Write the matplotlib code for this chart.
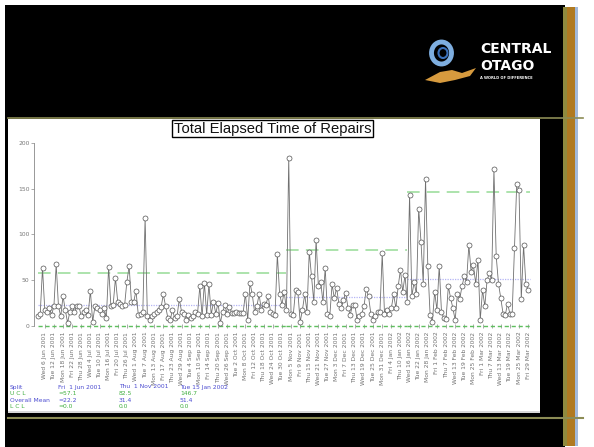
import matplotlib
matplotlib.use("Agg")
import matplotlib.pyplot as plt
from matplotlib.patches import Rectangle, Polygon, Ellipse
from matplotlib.lines import Line2D

W, H = 594, 447

# ---------------- data ----------------
values = [
    10, 13, 63, 17, 15, 19, 12, 21, 67, 21,
    10, 32, 17, 3, 15, 21, 15, 21, 21, 10,
    15, 17, 12, 38, 4, 21, 19, 17, 13, 19,
    8, 64, 21, 23, 52, 26, 24, 21, 22, 48,
    65, 26, 26, 38, 12, 13, 15, 118, 10, 6,
    10, 13, 15, 17, 20, 34, 21, 8, 6, 17,
    8, 10, 29, 15, 13, 6, 12, 8, 10, 15,
    13, 43, 10, 47, 12, 45, 12, 26, 13, 25,
    3, 15, 22, 13, 20, 14, 14, 15, 14, 14,
    14, 35, 6, 47, 34, 15, 21, 34, 17, 24,
    23, 32, 15, 13, 12, 78, 35, 23, 37,
    17, 184, 13, 12, 39, 37, 4, 17, 34, 15,
    81, 54, 26, 94, 43, 48, 26, 63, 13, 10,
    45, 30, 41, 24, 19, 28, 36, 19, 12, 23,
    23, 6, 10, 13, 21, 40, 32, 13, 6, 10,
    15, 15, 79, 13, 17, 13, 19, 34, 19, 43,
    61, 37, 55,
    26, 143, 32, 48, 34, 128, 92, 46, 161, 65,
    12, 4, 37, 17, 65, 15, 8, 7, 43, 30,
    19, 6, 35, 29, 43, 54, 48, 88, 59, 66,
    46, 72, 6, 39, 21, 50, 57, 50, 171, 76,
    46, 30, 13, 12, 24, 13, 13, 85, 155, 149,
    29, 88, 46, 39,
]

tick_labels = [
    "Wed 6 Jun 2001", "Tue 12 Jun 2001", "Mon 18 Jun 2001", "Fri 22 Jun 2001",
    "Thu 28 Jun 2001", "Wed 4 Jul 2001", "Tue 10 Jul 2001", "Mon 16 Jul 2001",
    "Fri 20 Jul 2001", "Thu 26 Jul 2001", "Wed 1 Aug 2001", "Tue 7 Aug 2001",
    "Mon 13 Aug 2001", "Fri 17 Aug 2001", "Thu 23 Aug 2001", "Wed 29 Aug 2001",
    "Tue 4 Sep 2001", "Mon 10 Sep 2001", "Fri 14 Sep 2001", "Thu 20 Sep 2001",
    "Wed 26 Sep 2001", "Tue 2 Oct 2001", "Mon 8 Oct 2001", "Fri 12 Oct 2001",
    "Thu 18 Oct 2001", "Wed 24 Oct 2001", "Tue 30 Oct 2001", "Mon 5 Nov 2001",
    "Fri 9 Nov 2001", "Thu 15 Nov 2001", "Wed 21 Nov 2001", "Tue 27 Nov 2001",
    "Mon 3 Dec 2001", "Fri 7 Dec 2001", "Thu 13 Dec 2001", "Wed 19 Dec 2001",
    "Tue 25 Dec 2001", "Mon 31 Dec 2001", "Fri 4 Jan 2002", "Thu 10 Jan 2002",
    "Wed 16 Jan 2002", "Tue 22 Jan 2002", "Mon 28 Jan 2002", "Fri 1 Feb 2002",
    "Thu 7 Feb 2002", "Wed 13 Feb 2002", "Tue 19 Feb 2002", "Mon 25 Feb 2002",
    "Fri 1 Mar 2002", "Thu 7 Mar 2002", "Wed 13 Mar 2002", "Tue 19 Mar 2002",
    "Mon 25 Mar 2002", "Fri 29 Mar 2002",
]
first_tick = 3
tick_step = 4

split_labels = ["Fri  1 Jun 2001", "Thu  1 Nov 2001", "Tue 15 Jan 2002"]
split_index = [0, 109, 162]
ucl = [57.1, 82.5, 146.7]
mean = [22.2, 31.4, 51.4]
lcl = [0.0, 0.0, 0.0]

# ---------------- figure & background ----------------
fig = plt.figure(figsize=(W / 100, H / 100), dpi=100)
fig.patch.set_facecolor("white")


def fx(x):
    return x / W


def fy(y):
    return 1 - y / H


def rect(x0, y0, x1, y1, color, z=0):
    fig.patches.append(Rectangle((fx(x0), fy(y1)), fx(x1) - fx(x0), fy(y0) - fy(y1),
                                 transform=fig.transFigure, facecolor=color,
                                 edgecolor="none", zorder=z))


rect(5, 5, 565, 447, "black", z=0)
rect(563, 7, 567, 446, "#8f8a3e", z=1)
rect(567, 7, 575, 446, "#b07a22", z=1)
rect(575, 7, 578, 446, "#a2b9da", z=1)
rect(8, 119, 540, 412, "white", z=1)
rect(8, 411, 540, 413, "#d8d8d8", z=1)
fig.lines.append(Line2D([fx(8), fx(583)], [fy(118), fy(118)], transform=fig.transFigure,
                        color="#8c8c55", lw=1.2, zorder=2))
fig.lines.append(Line2D([fx(8), fx(583)], [fy(418), fy(418)], transform=fig.transFigure,
                        color="#8c8c55", lw=1.5, zorder=2))

# logo
fig.patches.append(Polygon([(fx(425), fy(80)), (fx(440), fy(72)), (fx(452), fy(70)),
                            (fx(462), fy(73)), (fx(476), fy(68)), (fx(470), fy(76)),
                            (fx(455), fy(80)), (fx(440), fy(83))],
                           closed=True, transform=fig.transFigure,
                           facecolor="#d69a3e", edgecolor="none", zorder=3))
fig.patches.append(Ellipse((fx(441.5), fy(53)), 20 / W, 22 / H, transform=fig.transFigure,
                           facecolor="none", edgecolor="#7eaee0", lw=3.5, zorder=3))
fig.patches.append(Ellipse((fx(443), fy(53)), 9 / W, 10 / H, transform=fig.transFigure,
                           facecolor="none", edgecolor="#3a6fb8", lw=1.5, zorder=3))
fig.text(fx(480), fy(49), "CENTRAL", color="white", fontsize=10, fontweight="bold",
         ha="left", va="center", family="DejaVu Sans", zorder=4)
fig.text(fx(480), fy(66), "OTAGO", color="white", fontsize=10, fontweight="bold",
         ha="left", va="center", family="DejaVu Sans", zorder=4)
fig.text(fx(480), fy(78), "A WORLD OF DIFFERENCE", color="white", fontsize=2.6,
         fontweight="bold", ha="left", va="center", zorder=4)

# ---------------- chart ----------------
ax_l, ax_r, ax_t, ax_b = 34.3, 532.0, 143.0, 325.5
ax = fig.add_axes([fx(ax_l), fy(ax_b), fx(ax_r) - fx(ax_l), fy(ax_t) - fy(ax_b)])
ax.set_zorder(5)
ax.patch.set_alpha(0)

n = len(values)
xs = list(range(n))
ends = split_index[1:] + [n]

for s, e, u, m, lo in zip(split_index, ends, ucl, mean, lcl):
    ax.plot([s, e], [u, u], color="#a6e0a6", lw=1.3, ls=(0, (7, 4)), zorder=2)
    ax.plot([s, e], [m, m], color="#b4b4f4", lw=0.9, ls=(0, (1, 1)), zorder=2)
    ax.plot([s, e], [lo, lo], color="#5fbf5f", lw=1.0, ls=(0, (3, 2)), zorder=2, clip_on=False)

ax.plot(xs, values, color="#707070", lw=0.6, zorder=3, marker="o", markersize=3.6,
        markerfacecolor="white", markeredgecolor="#505050", markeredgewidth=0.5)

ax.set_xlim(-1.6, 216.7)
ax.set_ylim(0, 200)
for sp in ["top", "right", "bottom"]:
    ax.spines[sp].set_visible(False)
ax.spines["left"].set_color("#888888")
ax.spines["left"].set_linewidth(0.6)

ax.set_yticks([0, 50, 100, 150, 200])
ax.set_yticklabels(["0", "50", "100", "150", "200"])
ax.tick_params(axis="y", labelsize=4.3, labelcolor="#777777", color="#888888",
               length=2, width=0.5, pad=1.5)
tick_pos = [first_tick + tick_step * k for k in range(len(tick_labels))]
ax.set_xticks(tick_pos)
ax.set_xticklabels(tick_labels, rotation=90, fontsize=4.3, color="#707070")
ax.tick_params(axis="x", direction="inout", length=3, width=0.5, color="#888888", pad=3)

# title box
fig.text(fx(272.5), fy(128.5), "Total Elapsed Time of Repairs", fontsize=10.6,
         ha="center", va="center", color="#111111", family="Liberation Sans", zorder=6,
         bbox=dict(boxstyle="square,pad=0.1", facecolor="white", edgecolor="black", lw=1.0))

# stats table
blue = "#4a4ad0"
green = "#3fae3f"
rows_y = [387, 393.3, 400, 406.7]
row_names = ["Split", "U C L", "Overall Mean", "L C L"]
row_cols = [blue, green, blue, green]
col_x = [58, 119, 180]
for ry, name, c in zip(rows_y, row_names, row_cols):
    fig.text(fx(10), fy(ry), name, fontsize=4.3, color=c, ha="left", va="center", zorder=6)
for k, cx in enumerate(col_x):
    pre = "=" if k == 0 else ""
    fig.text(fx(cx), fy(rows_y[0]), split_labels[k], fontsize=4.3, color=blue,
             ha="left", va="center", zorder=6)
    fig.text(fx(cx), fy(rows_y[1]), f"{pre}{ucl[k]:.1f}", fontsize=4.3, color=green,
             ha="left", va="center", zorder=6)
    fig.text(fx(cx), fy(rows_y[2]), f"{pre}{mean[k]:.1f}", fontsize=4.3, color=blue,
             ha="left", va="center", zorder=6)
    fig.text(fx(cx), fy(rows_y[3]), f"{pre}{lcl[k]:.1f}", fontsize=4.3, color=green,
             ha="left", va="center", zorder=6)

fig.savefig("out.png", dpi=100, facecolor=fig.get_facecolor())
